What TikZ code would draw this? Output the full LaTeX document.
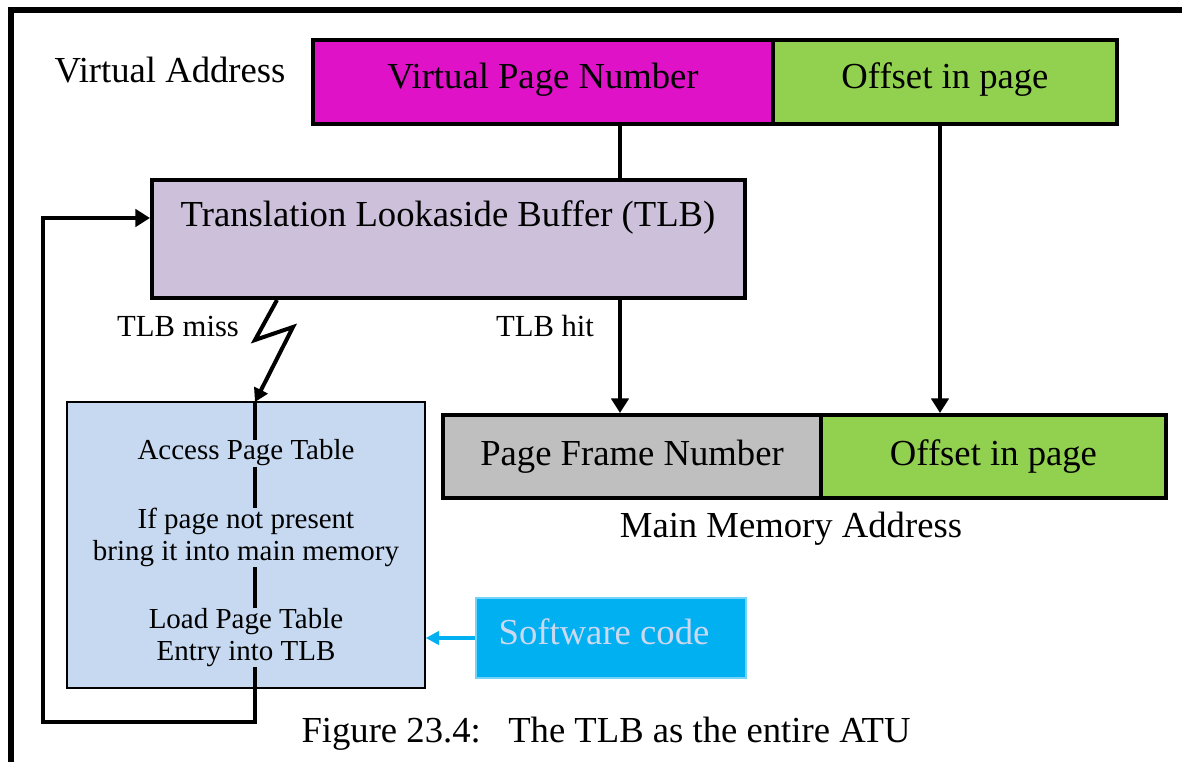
\documentclass[tikz,border=0pt]{standalone}
\usepackage{fontspec}
\setmainfont{Liberation Serif}
\usetikzlibrary{arrows.meta}

\definecolor{vpnmag}{RGB}{224,18,200}
\definecolor{offgreen}{RGB}{146,208,80}
\definecolor{tlblav}{RGB}{204,192,218}
\definecolor{pfngray}{RGB}{191,191,191}
\definecolor{pageblue}{RGB}{198,217,240}
\definecolor{swcyan}{RGB}{0,176,240}
\definecolor{swtext}{RGB}{204,216,240}

\newcommand{\bigtxt}{\fontsize{27.5pt}{33pt}\selectfont}
\newcommand{\midtxt}{\fontsize{23pt}{27pt}\selectfont}
\newcommand{\smalltxt}{\fontsize{21.75pt}{24pt}\selectfont}

\begin{document}
\begin{tikzpicture}[x=0.75pt,y=-0.75pt,
  field/.style={draw=black,line width=3pt,inner sep=0pt,minimum height=63pt,font=\bigtxt},
  flow/.style={line width=3.6pt},
  flowarrow/.style={flow,-{Triangle[length=11pt,width=13pt]}},
  steptext/.style={font=\smalltxt,align=center,inner sep=0pt},
  lbl/.style={font=\midtxt,inner sep=0pt,anchor=base},
  biglbl/.style={font=\bigtxt,inner sep=0pt,anchor=base},
]
\useasboundingbox (0,0) rectangle (1182,762);

% page frame
\draw[line width=4pt] (11,762) -- (11,10) -- (1182,10);

% virtual address
\node[biglbl] (va) at (170,83) {Virtual Address};
\node[field,fill=vpnmag,minimum width=345pt,text depth=10pt] (vpn) at (543,82) {Virtual Page Number};
\node[field,fill=offgreen,minimum width=258pt,text depth=10pt] (voff) at (945,82) {Offset in page};

% TLB
\node[field,fill=tlblav,minimum width=444.75pt,minimum height=88.5pt] (tlb) at (448.5,239) {};
\node[biglbl] (tlbtext) at (448,227) {Translation Lookaside Buffer (TLB)};

% main memory address
\node[field,fill=pfngray,minimum width=283.5pt,minimum height=62.25pt] (pfn) at (632,456.5) {Page Frame Number};
\node[field,fill=offgreen,minimum width=258.75pt,minimum height=62.25pt] (poff) at (993.5,456.5) {Offset in page};
\node[biglbl] (mma) at (791,538) {Main Memory Address};

% miss handler
\node[draw=black,line width=1.1pt,fill=pageblue,inner sep=0pt,minimum width=268.5pt,minimum height=214.5pt] (lbox) at (246,545) {};
\node[steptext,anchor=base] (s1) at (246,460) {Access Page Table};
\node[steptext,anchor=north] (s2) at (246,508) {If page not present\\bring it into main memory};
\node[steptext,anchor=north] (s3) at (246,608) {Load Page Table\\Entry into TLB};

% software code
\node[fill=swcyan,draw=swcyan!55!white,line width=0.8pt,inner sep=0pt,minimum width=202.5pt,minimum height=60pt] (sw) at (611,638) {};
\node[biglbl,text=swtext] (swt) at (604,644) {Software code};

% labels
\node[lbl] (miss) at (178,337) {TLB miss};
\node[lbl] (hit) at (545,337) {TLB hit};
\node[biglbl] (cap) at (606,742) {Figure 23.4:\hspace{0.75em}The TLB as the entire ATU};

% helper coordinates
\coordinate (hitx) at (620,0);
\coordinate (offx) at (940,0);
\coordinate (missx) at (277,0);
\coordinate (tip) at (255,402);
\coordinate (loopc) at (43,722);
\coordinate (entryy) at (0,218);

% connectors
\draw[flow] (vpn.south -| hitx) -- (tlb.north -| hitx);
\draw[flowarrow] (tlb.south -| hitx) -- (pfn.north -| hitx);
\draw[flowarrow] (voff.south -| offx) -- (poff.north -| offx);

\draw[line width=3pt,line join=miter,-{Triangle[length=10pt,width=11pt]}]
  (tlb.south -| missx) -- (255,340) -- (293,327) -- (tip);
\draw[line width=3pt] (tip) -- (s1.north -| tip);
\draw[line width=3pt] (s1.south -| tip) -- (s2.north -| tip);
\draw[line width=3pt] (s2.south -| tip) -- (s3.north -| tip);
\draw[line width=3pt,-{Triangle[length=11pt,width=13pt]}]
  (s3.south -| tip) |- (loopc) |- (tlb.west |- entryy);

\draw[line width=2.5pt,swcyan,-{Triangle[length=10pt,width=10pt]}] (sw.west) -- (lbox.east |- sw.west);
\end{tikzpicture}
\end{document}
